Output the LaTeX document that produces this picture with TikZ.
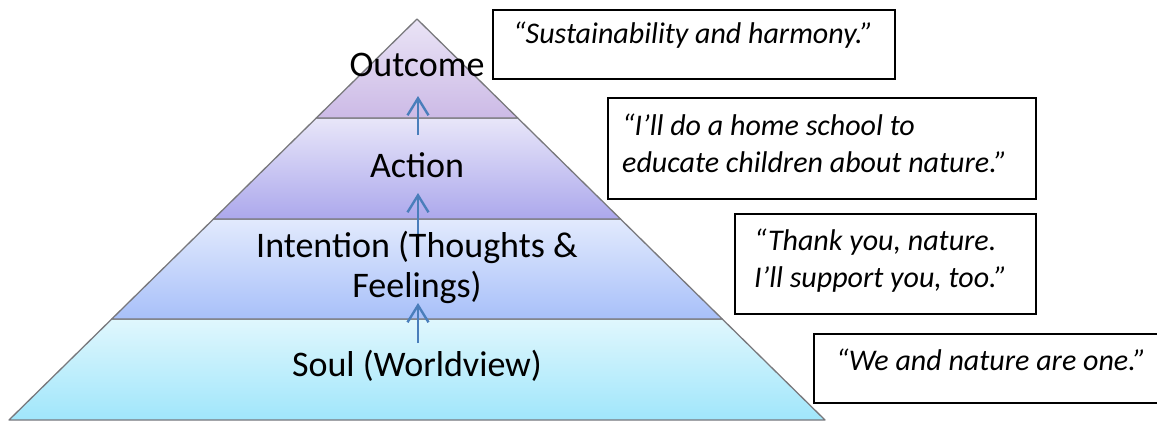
\documentclass[tikz,border=0pt]{standalone}
\usepackage{fontspec}
\setmainfont{Carlito}
\usetikzlibrary{arrows.meta,calc}

% layer colours, light at the top of each band, deeper at its foot
\definecolor{outTop}{RGB}{234,228,246}
\definecolor{outBot}{RGB}{204,186,230}
\definecolor{actTop}{RGB}{232,230,249}
\definecolor{actBot}{RGB}{172,168,236}
\definecolor{intTop}{RGB}{226,234,253}
\definecolor{intBot}{RGB}{168,192,249}
\definecolor{soulTop}{RGB}{224,247,253}
\definecolor{soulBot}{RGB}{160,230,251}
\definecolor{edgeGray}{RGB}{120,120,124}
\definecolor{flowBlue}{RGB}{74,126,187}

\tikzset{
  layer/.style={draw=edgeGray, line width=1.3pt, line join=round},
  lbl/.style={font=\fontsize{36}{40}\selectfont, text=black, inner sep=0pt, align=center},
  quotebox/.style={draw=black, line width=1.6pt, fill=white, inner sep=0pt},
  quote/.style={font=\fontsize{30}{37}\selectfont\itshape, text=black, inner sep=0pt, align=left},
  flow/.style={draw=flowBlue, line width=2.4pt, -{Straight Barb[length=17pt,width=21pt,line width=2.4pt]}}
}

\begin{document}
\begin{tikzpicture}[x=1pt, y=-1pt]
\useasboundingbox (0,0) rectangle (1157,421);
\clip (0,0) rectangle (1157,421);

% pyramid frame
\coordinate (apex) at (417,19);
\coordinate (bl) at (9,420);
\coordinate (br) at (825,420);
\coordinate (l1) at ($(apex)!0.2469!(bl)$);
\coordinate (r1) at ($(apex)!0.2469!(br)$);
\coordinate (l2) at ($(apex)!0.4988!(bl)$);
\coordinate (r2) at ($(apex)!0.4988!(br)$);
\coordinate (l3) at ($(apex)!0.7481!(bl)$);
\coordinate (r3) at ($(apex)!0.7481!(br)$);

% bands, bottom to top
\path[layer, top color=soulTop, bottom color=soulBot] (l3) -- (r3) -- (br) -- (bl) -- cycle;
\path[layer, top color=intTop, bottom color=intBot] (l2) -- (r2) -- (r3) -- (l3) -- cycle;
\path[layer, top color=actTop, bottom color=actBot] (l1) -- (r1) -- (r2) -- (l2) -- cycle;
\path[layer, top color=outTop, bottom color=outBot] (apex) -- (r1) -- (l1) -- cycle;

% upward flow between bands
\coordinate (a1s) at (418,135);
\coordinate (a1e) at (418,96);
\coordinate (a2s) at (418,236);
\coordinate (a2e) at (418,193);
\coordinate (a3s) at (418,343);
\coordinate (a3e) at (418,303);
\draw[flow] (a1s) -- (a1e);
\draw[flow] (a2s) -- (a2e);
\draw[flow] (a3s) -- (a3e);

% band labels (multi-line nodes sit on their last baseline)
\node[lbl, anchor=base] (outcome) at (417,76) {Outcome};
\node[lbl, anchor=base] (action) at (417,177) {Action};
\node[lbl, anchor=base] (intention) at (417,297) {Intention (Thoughts \&\\Feelings)};
\node[lbl, anchor=base] (soul) at (417,376) {Soul (Worldview)};

% quotation boxes
\node[quotebox, anchor=north west, minimum width=402pt, minimum height=69pt] (q1) at (492,9) {};
\node[quotebox, anchor=north west, minimum width=428pt, minimum height=101pt] (q2) at (607,97) {};
\node[quotebox, anchor=north west, minimum width=301pt, minimum height=100pt] (q3) at (734,213) {};
\node[quotebox, anchor=north west, minimum width=380pt, minimum height=69pt] (q4) at (813,333) {};

\node[quote, anchor=base west] (t1) at (513,43) {“Sustainability and harmony.”};
\node[quote, anchor=base west] (t2) at (622,172) {“I’ll do a home school to\\educate children about nature.”};
\node[quote, anchor=base west] (t3) at (754,287) {“Thank you, nature.\\I’ll support you, too.”};
\node[quote, anchor=base west] (t4) at (836,370) {“We and nature are one.”};
\end{tikzpicture}
\end{document}
